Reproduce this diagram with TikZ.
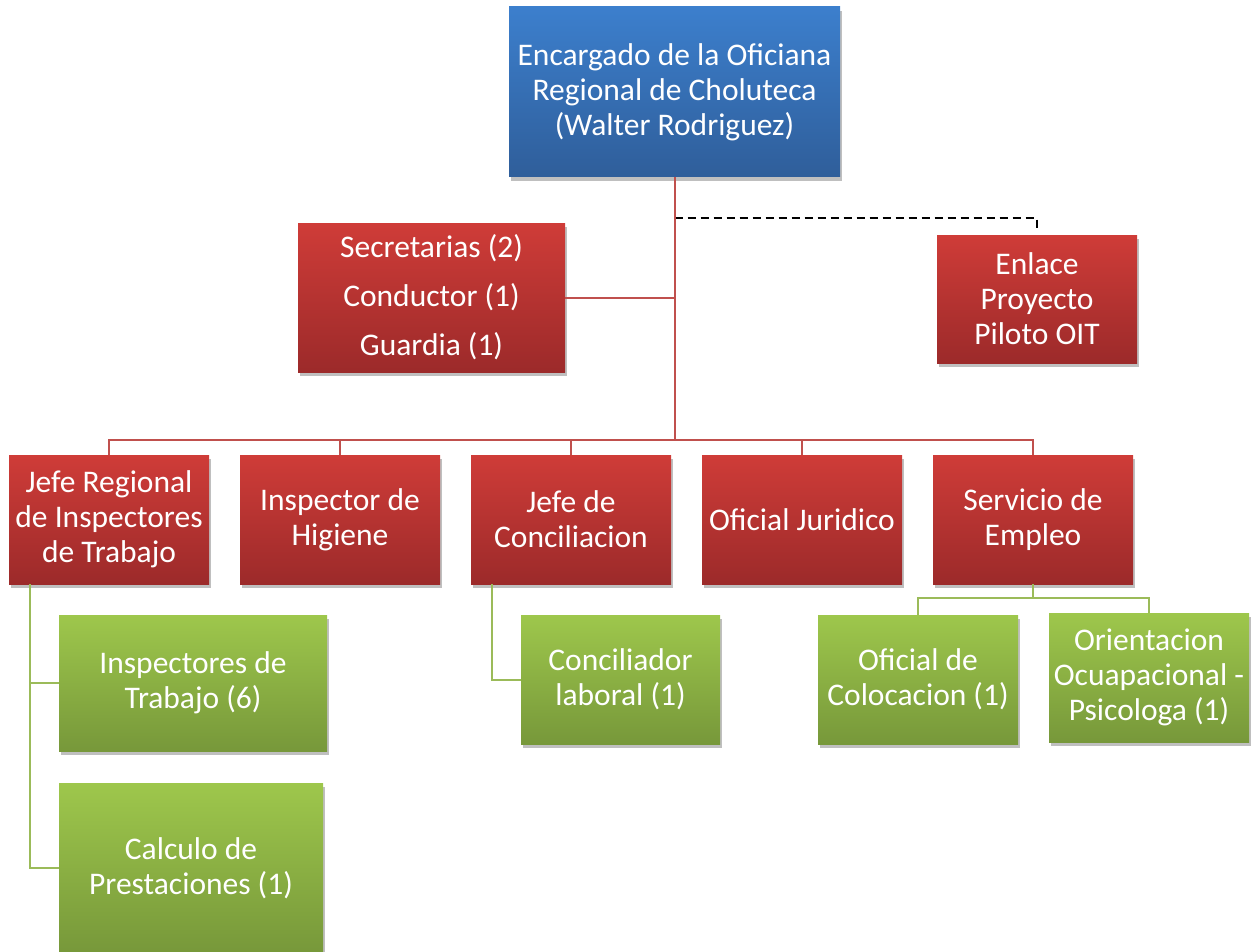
\documentclass[tikz,border=0pt]{standalone}
\usepackage{fontspec}
\setmainfont{Carlito}
\usetikzlibrary{shadows}
\definecolor{bluetop}{HTML}{3C7FCD}
\definecolor{bluebot}{HTML}{2F5E9A}
\definecolor{redtop}{HTML}{CF3C38}
\definecolor{redbot}{HTML}{9C2A2A}
\definecolor{greentop}{HTML}{9EC74C}
\definecolor{greenbot}{HTML}{77983A}
\definecolor{redln}{HTML}{C0504D}
\definecolor{greenln}{HTML}{9BBB59}
\tikzset{
  box/.style={rectangle, inner sep=0pt, align=center, text=white,
    font=\fontsize{31.5}{35}\selectfont,
    drop shadow={shadow xshift=2pt, shadow yshift=-4pt, opacity=0.25, fill=black}},
  bluebox/.style={box, top color=bluetop, bottom color=bluebot},
  redbox/.style={box, top color=redtop, bottom color=redbot},
  greenbox/.style={box, top color=greentop, bottom color=greenbot},
  redline/.style={draw=redln, line width=2pt},
  greenline/.style={draw=greenln, line width=2pt},
  dashline/.style={draw=black, line width=2pt, dash pattern=on 8pt off 5pt}
}
\begin{document}
\begin{tikzpicture}[x=1pt,y=-1pt]
\useasboundingbox (0,0) rectangle (1260,952);
% top
\node[bluebox, minimum width=331pt, minimum height=170pt] (top) at (674.5,92) {Encargado de la Oficiana\\Regional de Choluteca\\(Walter Rodriguez)};
\node[redbox, minimum width=267pt, minimum height=149pt, font=\fontsize{31.5}{49}\selectfont] (sec) at (431.5,297.5) {Secretarias (2)\\Conductor (1)\\Guardia (1)};
\node[redbox, minimum width=200pt, minimum height=128pt] (enl) at (1037,299) {Enlace\\Proyecto\\Piloto OIT};
% row
\node[redbox, minimum width=200pt, minimum height=129pt] (jefe) at (109,519.5) {Jefe Regional\\de Inspectores\\de Trabajo};
\node[redbox, minimum width=200pt, minimum height=129pt] (hig) at (340,519.5) {Inspector de\\Higiene};
\node[redbox, minimum width=200pt, minimum height=129pt] (conc) at (571,519.5) {Jefe de\\Conciliacion};
\node[redbox, minimum width=200pt, minimum height=129pt] (jur) at (802,519.5) {Oficial Juridico};
\node[redbox, minimum width=200pt, minimum height=129pt] (serv) at (1033,519.5) {Servicio de\\Empleo};
% green
\node[greenbox, minimum width=268pt, minimum height=136pt] (insp) at (193,683) {Inspectores de\\Trabajo (6)};
\node[greenbox, minimum width=264pt, minimum height=170pt] (calc) at (191,868) {Calculo de\\Prestaciones (1)};
\node[greenbox, minimum width=199pt, minimum height=129pt] (cil) at (620.5,679.5) {Conciliador\\laboral (1)};
\node[greenbox, minimum width=200pt, minimum height=129pt] (col) at (918,679.5) {Oficial de\\Colocacion (1)};
\node[greenbox, minimum width=200pt, minimum height=129pt] (ori) at (1149,677.5) {Orientacion\\Ocuapacional -\\Psicologa (1)};
% connectors
\coordinate (bus) at (0,440);
\coordinate (dash) at (0,218);
\coordinate (enlstub) at (1037,228);
\draw[dashline] (top.south |- dash) -| (enlstub);
\draw[redline] (top.south) -- (top.south |- bus);
\draw[redline] (sec.east) -- (sec.east -| top.south);
\draw[redline] (jefe.north) -- (jefe.north |- bus) -- (serv.north |- bus) -- (serv.north);
\draw[redline] (hig.north) -- (hig.north |- bus);
\draw[redline] (conc.north) -- (conc.north |- bus);
\draw[redline] (jur.north) -- (jur.north |- bus);
\coordinate (jl) at (30,584);
\draw[greenline] (jl) |- (insp.west);
\draw[greenline] (jl) |- (calc.west);
\coordinate (cl) at (492,584);
\draw[greenline] (cl) |- (cil.west);
\coordinate (sbus) at (0,598);
\draw[greenline] (serv.south) -- (serv.south |- sbus);
\draw[greenline] (col.north) -- (col.north |- sbus) -- (ori.north |- sbus) -- (ori.north);
\end{tikzpicture}
\end{document}
